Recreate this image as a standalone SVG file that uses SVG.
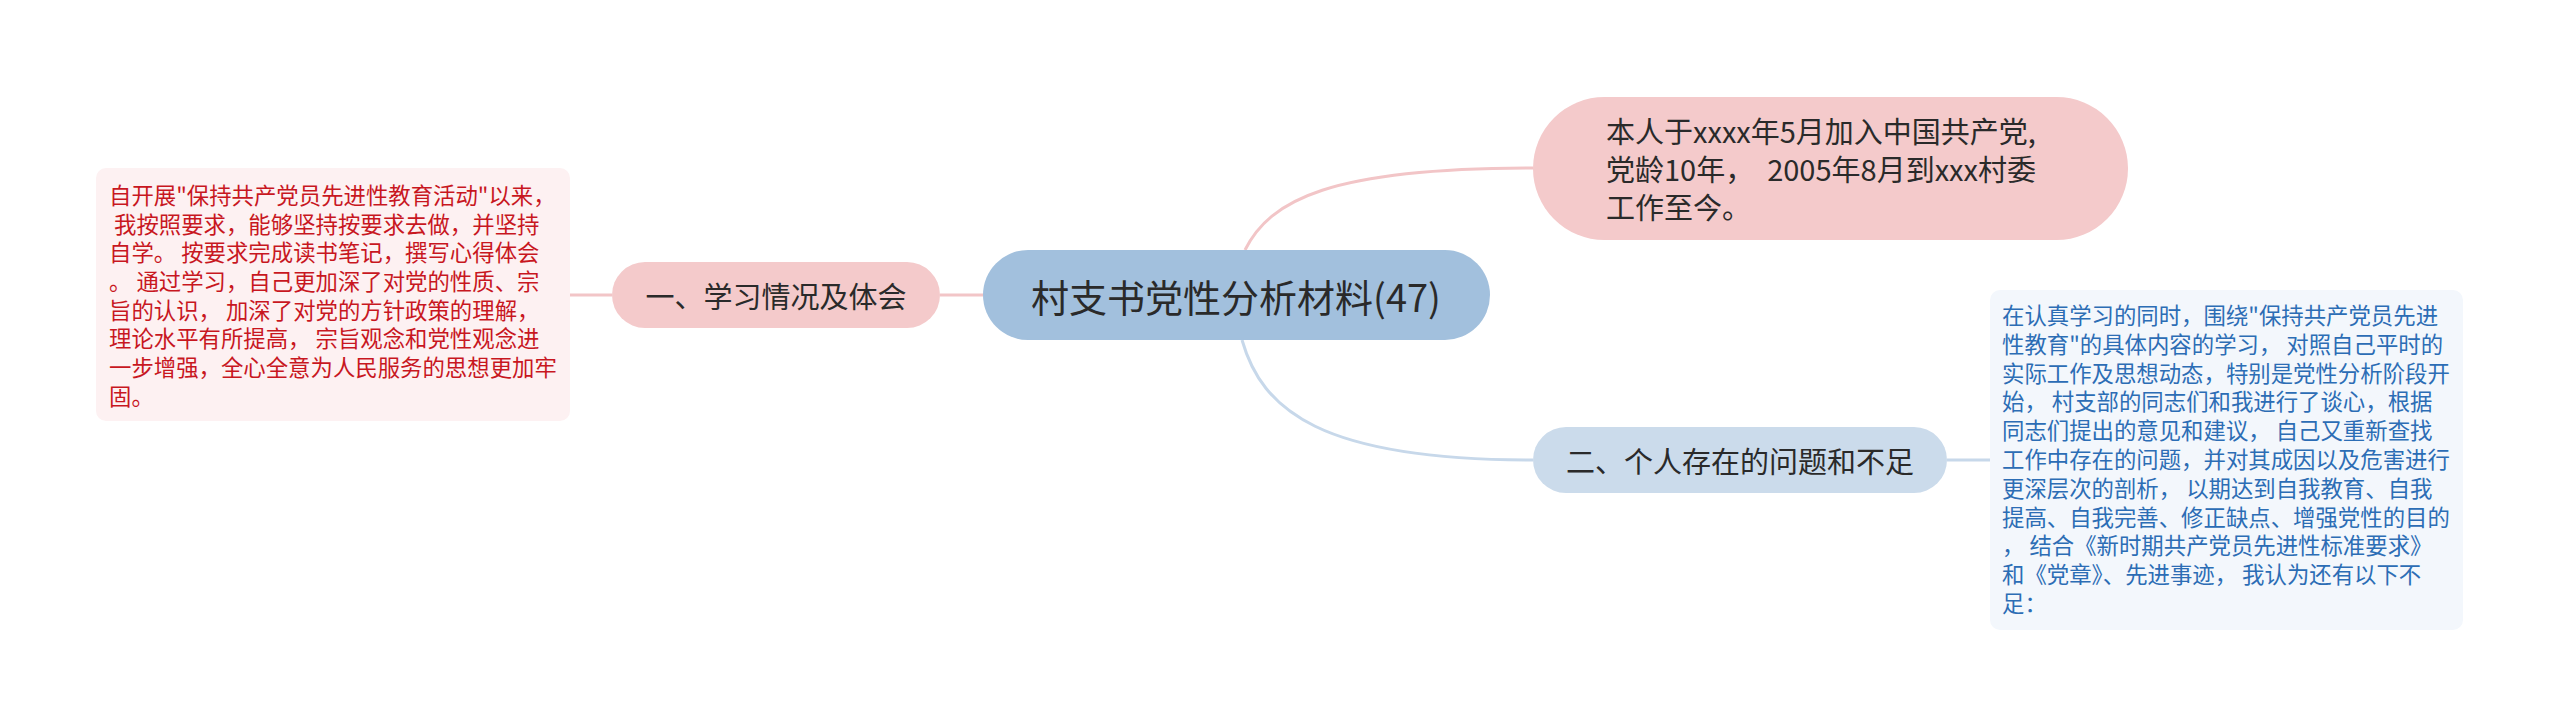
<svg xmlns="http://www.w3.org/2000/svg" width="2560" height="727" viewBox="0 0 2560 727">
<style>
text{font-family:"Noto Sans CJK SC","Noto Sans",sans-serif;white-space:pre}
.lbl{fill:#2a2a2a;text-anchor:middle;dominant-baseline:central}
.pk{fill:#f4cacb}
.bl{fill:#cbdbeb}
.conP{fill:none;stroke:#f2c5c7;stroke-width:3}
.conB{fill:none;stroke:#c7d8ea;stroke-width:3}
.red{fill:#c8171f;font-size:22.4px}
.blu{fill:#2c6db5;font-size:22.4px}
</style>
<rect width="2560" height="727" fill="#ffffff"/>
<g id="connectors">
<path class="conP" d="M1245 250 C1270 200 1330 168 1533 168"/>
<path class="conB" d="M1242 340 C1262 410 1320 460 1533 460"/>
<path class="conP" d="M940 295 H983"/>
<path class="conP" d="M570 295 H612"/>
<path class="conB" d="M1947 460 H1990"/>
</g>
<g id="center">
<rect x="983" y="250" width="507" height="90" rx="45" fill="#a2c0dd"/>
<text class="lbl" x="1236" y="295" font-size="38">村支书党性分析材料(47)</text>
</g>
<g id="node1">
<rect class="pk" x="612" y="262" width="328" height="66" rx="33"/>
<text class="lbl" x="776" y="295" font-size="29">一、学习情况及体会</text>
</g>
<g id="node1-detail">
<rect x="96" y="168" width="474" height="253" rx="10" fill="#fdf1f2"/>
<text class="red" x="109" y="204">自开展"保持共产党员先进性教育活动"以来，</text>
<text class="red" x="109" y="233"> 我按照要求，能够坚持按要求去做，并坚持</text>
<text class="red" x="109" y="261">自学。 按要求完成读书笔记，撰写心得体会</text>
<text class="red" x="109" y="290">。 通过学习，自己更加深了对党的性质、宗</text>
<text class="red" x="109" y="319">旨的认识， 加深了对党的方针政策的理解，</text>
<text class="red" x="109" y="347">理论水平有所提高， 宗旨观念和党性观念进</text>
<text class="red" x="109" y="376">一步增强，全心全意为人民服务的思想更加牢</text>
<text class="red" x="109" y="405">固。</text>
</g>
<g id="node-intro">
<rect class="pk" x="1533" y="97" width="595" height="143" rx="71.5"/>
<text x="1606" y="143" font-size="29" fill="#2a2a2a">本人于xxxx年5月加入中国共产党,</text>
<text x="1606" y="181" font-size="29" fill="#2a2a2a">党龄10年，  2005年8月到xxx村委</text>
<text x="1606" y="219" font-size="29" fill="#2a2a2a">工作至今。</text>
</g>
<g id="node2">
<rect class="bl" x="1533" y="427" width="414" height="66" rx="33"/>
<text class="lbl" x="1740" y="460" font-size="29">二、个人存在的问题和不足</text>
</g>
<g id="node2-detail">
<rect x="1990" y="290" width="473" height="340" rx="10" fill="#f3f7fc"/>
<text class="blu" x="2002" y="324">在认真学习的同时，围绕"保持共产党员先进</text>
<text class="blu" x="2002" y="353">性教育"的具体内容的学习， 对照自己平时的</text>
<text class="blu" x="2002" y="382">实际工作及思想动态，特别是党性分析阶段开</text>
<text class="blu" x="2002" y="410">始， 村支部的同志们和我进行了谈心，根据</text>
<text class="blu" x="2002" y="439">同志们提出的意见和建议， 自己又重新查找</text>
<text class="blu" x="2002" y="468">工作中存在的问题，并对其成因以及危害进行</text>
<text class="blu" x="2002" y="497">更深层次的剖析， 以期达到自我教育、自我</text>
<text class="blu" x="2002" y="526">提高、自我完善、修正缺点、增强党性的目的</text>
<text class="blu" x="2002" y="554">， 结合《新时期共产党员先进性标准要求》</text>
<text class="blu" x="2002" y="583">和《党章》、先进事迹， 我认为还有以下不</text>
<text class="blu" x="2002" y="612">足：</text>
</g>
</svg>
